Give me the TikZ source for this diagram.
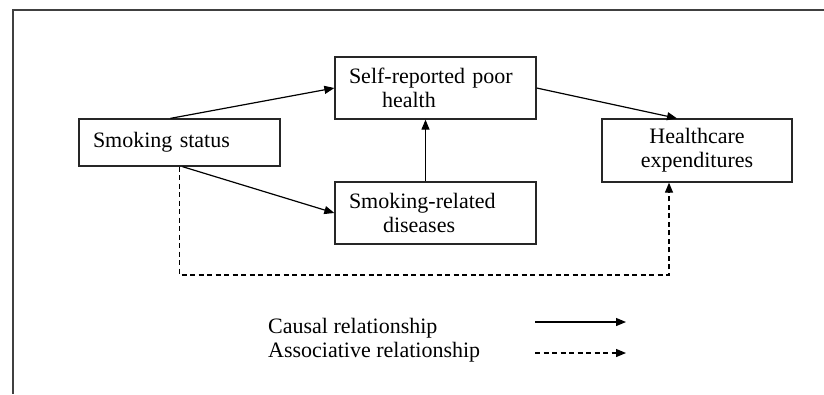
\documentclass[tikz,border=0pt]{standalone}
\usepackage{fontspec}
\setmainfont{Liberation Serif}
\usepackage{tikz}
\usetikzlibrary{arrows.meta,positioning,calc}
\tikzset{
	box/.style={draw=black!85, line width=1.3pt, inner xsep=14pt, inner ysep=0pt, font=\fontsize{22}{24}\selectfont},
	causal/.style={-{Triangle[length=10pt,width=8pt]}, color=black, line width=1.2pt},
	assoc/.style={-{Triangle[length=10pt,width=8pt]}, color=black, line width=1.2pt, dash pattern=on 5pt off 3.5pt},
	legendtext/.style={anchor=base west, inner sep=0pt, font=\fontsize{22}{24}\selectfont},
	frameline/.style={draw=black!75, line width=1.2pt}
}
\begin{document}
\begin{tikzpicture}[x=1pt,y=-1pt]
		\useasboundingbox (0,0) rectangle (824,394);
		%%%frame
		\draw[frameline] (824,10) -- (13,10) -- (13,394);
		%%%boxes
		\node[box, text width=173pt, align=left, minimum height=47pt] (status) at (179.5,142.5) {Smoking status};
		\node[box, text width=173pt, align=left, minimum height=62pt] (health) at (435.5,88) {Self-reported poor\\\hspace*{33pt}health};
		\node[box, text width=173pt, align=left, minimum height=62pt] (disease) at (435.5,213) {Smoking-related\\\hspace*{34pt}diseases};
		\node[box, text width=162pt, align=center, minimum height=63pt] (cost) at (697,150.5) {Healthcare\\expenditures};
		\coordinate (lowrow) at (0,275);
		%%%arrows
		\draw[causal] ([xshift=-9pt]status.north) -- (health.west);
		\draw[causal] ([xshift=3pt]status.south) -- (disease.west);
		\draw[causal] ([xshift=-10pt]disease.north) -- ([xshift=-10pt]health.south);
		\draw[causal] (health.east) -- ([xshift=-20pt]cost.north);
		\draw[assoc] (status.south) -- (status.south |- lowrow) -| ([xshift=-28pt]cost.south);
		%%%legend
		\node[legendtext] (causaltext) at (268,333) {Causal relationship};
		\node[legendtext] (assoctext) at (268,357) {Associative relationship};
		\coordinate (c1) at (535,322);
		\coordinate (c2) at (626,322);
		\coordinate (a1) at (535,353);
		\coordinate (a2) at (626,353);
		\draw[causal] (c1) -- (c2);
		\draw[assoc] (a1) -- (a2);
	\end{tikzpicture}
\end{document}
